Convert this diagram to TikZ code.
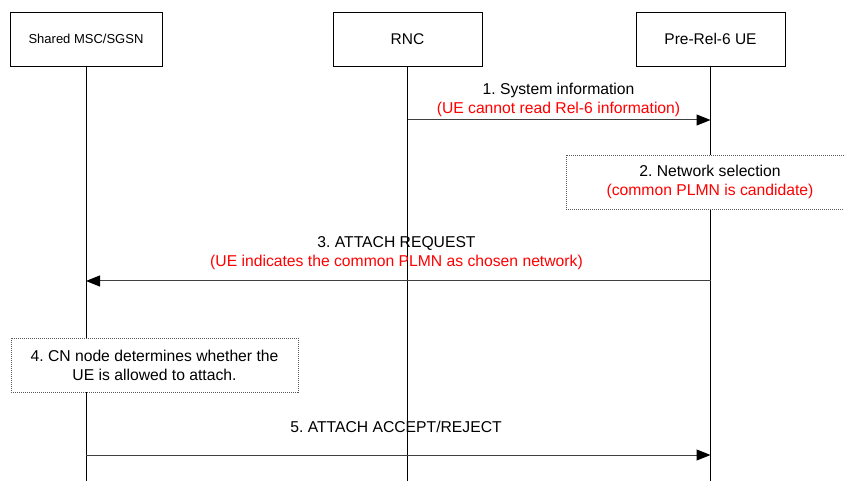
\documentclass[tikz,border=0pt]{standalone}
\usepackage{fontspec}
\setmainfont{Liberation Sans}
\usetikzlibrary{arrows.meta}
\frenchspacing
\begin{document}
\begin{tikzpicture}[x=1pt,y=-1pt,
  entity/.style={draw=black, line width=0.8pt, minimum width=149pt, minimum height=54pt, inner sep=0pt, font=\fontsize{15.5}{19}\selectfont},
  lifeline/.style={line width=0.8pt, black},
  msg/.style={line width=1pt, black!75, -{Triangle[length=14pt,width=11pt,color=black,fill=black]}},
  lbl/.style={align=center, font=\fontsize{15.7}{19}\selectfont, inner sep=0pt},
  note/.style={draw=black!65, dash pattern=on 1pt off 1pt, line width=0.8pt, fill=white, align=center, inner sep=0pt, font=\fontsize{15.7}{19}\selectfont},
]
\useasboundingbox (0,0) rectangle (844,481);
\clip (0,0) rectangle (844,481);

% entities
\node[entity, minimum width=152pt, font=\fontsize{13}{16}\selectfont] (msc) at (86,39) {Shared MSC/SGSN};
\node[entity] (rnc) at (407.5,39) {RNC};
\node[entity] (ue) at (710.5,39) {Pre-Rel-6 UE};

% lifeline ends
\coordinate (mscEnd) at (86,481);
\coordinate (rncEnd) at (407.5,481);
\coordinate (ueEnd) at (710.5,481);
\draw[lifeline] (msc.south) -- (mscEnd);
\draw[lifeline] (rnc.south) -- (rncEnd);
\draw[lifeline] (ue.south) -- (ueEnd);

% message anchor points
\coordinate (m1s) at (407.5,120);
\coordinate (m1e) at (710.5,120);
\coordinate (m3s) at (710.5,281);
\coordinate (m3e) at (86,281);
\coordinate (m5s) at (86,455);
\coordinate (m5e) at (710.5,455);

% 1. System information
\draw[msg] (m1s) -- (m1e);
\node[lbl, anchor=south] (l1) at (558.5,116.8) {1. System information\\\textcolor{red}{(UE cannot read Rel-6 information)}};

% 2. Network selection
\node[note, minimum width=288pt, minimum height=54pt] (n2) at (710,182) {2. Network selection\\\textcolor{red}{(common PLMN is candidate)}};

% 3. ATTACH REQUEST
\draw[msg] (m3s) -- (m3e);
\node[lbl, anchor=south] (l3) at (396.5,270.3) {3. ATTACH REQUEST\\\textcolor{red}{(UE indicates the common PLMN as chosen network)}};

% 4. CN node
\node[note, minimum width=287pt, minimum height=54pt] (n4) at (154.5,365) {4. CN node determines whether the\\UE is allowed to attach.};

% 5. ATTACH ACCEPT/REJECT
\draw[msg] (m5s) -- (m5e);
\node[lbl, anchor=base] (l5) at (396,432) {5. ATTACH ACCEPT/REJECT};
\end{tikzpicture}
\end{document}
